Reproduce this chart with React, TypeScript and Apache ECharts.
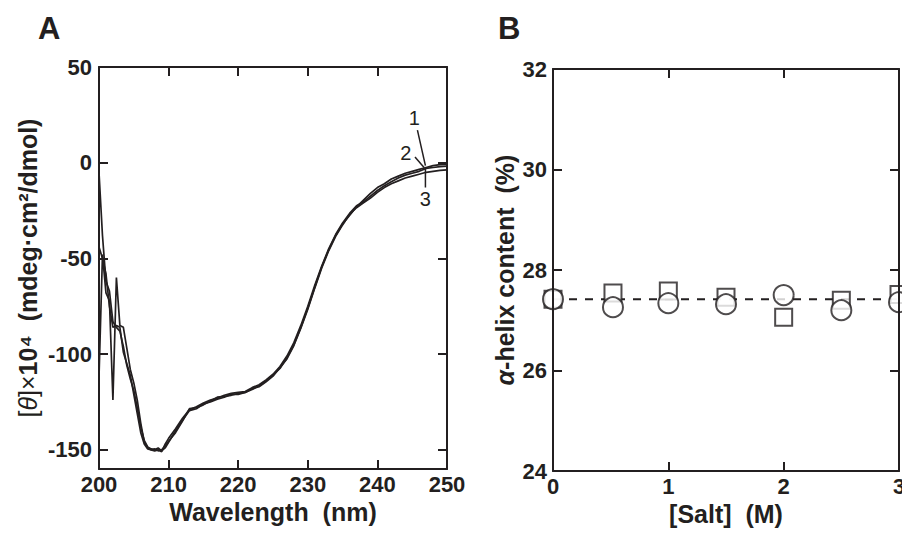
import React, { useEffect, useRef } from "react";
import * as echarts from "echarts";

// ---------- Panel A : CD spectra ----------
const WAVELENGTH = [
  200, 200.5, 201, 201.5, 202, 202.5, 203, 203.5, 204, 204.5, 205, 205.5, 206, 206.5, 207, 207.5, 208, 208.5, 209, 209.5, 210,
  211, 212, 213, 214, 215, 216, 217, 218, 219, 220, 221, 222, 223, 224, 225, 226, 227, 228, 229, 230,
  231, 232, 233, 234, 235, 236, 237, 238, 239, 240, 241, 242, 243, 244, 245, 246, 247, 248, 249, 250,
];
const CURVE_1 = [
  -5, -38, -62, -67, -83, -86, -88, -96, -106, -113, -119, -128, -138, -145, -148.5, -149.5, -150, -149, -150.5, -149, -146,
  -140, -134.5, -129.5, -128.5, -126, -125, -123.5, -122.5, -121, -121, -120, -118.5, -116.5, -114, -111, -107.5, -102, -95, -86, -76,
  -65, -54.5, -45.5, -38, -32, -27.5, -23, -19.5, -16, -13, -11, -8.5, -7, -5.5, -4.5, -3.5, -2.5, -1.5, -1, -0.8,
];
const CURVE_2 = [
  -112, -48, -68, -72, -124, -60, -85, -86, -97, -108, -115, -124, -136, -146, -149, -150, -150.5, -150, -151, -147, -144,
  -139, -133.5, -129, -127.5, -125.5, -124, -123, -121.5, -120.5, -120, -119.5, -117.5, -116, -113.5, -110.5, -106.5, -101, -94, -85, -75,
  -64, -54, -45, -37.5, -31.5, -26.5, -22.5, -20.5, -17.5, -14.5, -12, -10, -8, -6.5, -5.5, -4.5, -3, -2.5, -2, -1.8,
];
const CURVE_3 = [
  -44, -50, -58, -75, -86, -85, -86, -99, -105, -111, -121, -131, -141, -147, -149.5, -150, -149.5, -150.5, -150, -148, -145.5,
  -141, -135, -128.5, -128, -126.5, -124.5, -122.5, -122, -121.5, -120.5, -120, -118, -117, -114.5, -111.5, -107, -102.5, -95.5, -86.5, -76.5,
  -65.5, -55, -46, -38.5, -32.5, -27, -23.5, -21, -18.5, -15.5, -13, -11, -9.5, -8, -7, -6, -5, -4.5, -4, -3.7,
];
const A_Y_TICKS = [-150, -100, -50, 0, 50];
const CURVE_LABELS = ["1", "2", "3"];
// pointer segments [x0, y0, x1, y1] and label anchor [x, y] (data units)
const POINTERS = [
  [245.75, 17, 246.9, -1.5],
  [245.4, 3, 246.7, -2.5],
  [246.9, -2.5, 246.9, -13],
];
const LABEL_POS = [
  [245.3, 23.5],
  [244.1, 5],
  [246.9, -19],
];

// ---------- Panel B : alpha-helix content ----------
const SALT = [0, 0.52, 1, 1.5, 2, 2.5, 3];
const SQUARES = [27.42, 27.54, 27.58, 27.46, 27.06, 27.4, 27.51];
const CIRCLES = [27.42, 27.26, 27.34, 27.32, 27.5, 27.2, 27.36];
const MEAN_LINE = 27.42;

const INK = "#231f20";
const FONT = "'Liberation Sans', Arial, Helvetica, sans-serif";

export default function App() {
  const ref = useRef<HTMLDivElement>(null);

  useEffect(() => {
    document.body.style.margin = "0";
    if (!ref.current) return;
    const chart = echarts.init(ref.current, undefined, { renderer: "svg" });

    const zip = (xs: number[], ys: number[]) => xs.map((x, i) => [x, ys[i]]);

    const axisLine = { show: true, onZero: false, lineStyle: { color: INK, width: 2 } };
    const tick = { show: true, inside: true, length: 9, lineStyle: { color: INK, width: 2 } };
    const label = { fontSize: 22, fontWeight: "bold" as const, color: INK, fontFamily: FONT };
    const titleStyle = { fontSize: 25, fontWeight: "bold", color: INK, fontFamily: FONT };

    const curveSeries = [CURVE_1, CURVE_2, CURVE_3].map((c) => ({
      type: "line",
      xAxisIndex: 0,
      yAxisIndex: 0,
      data: zip(WAVELENGTH, c),
      showSymbol: false,
      symbol: "none",
      lineStyle: { color: INK, width: 1.7 },
      z: 3,
    }));

    const pointerSeries = POINTERS.map((p) => ({
      type: "line",
      xAxisIndex: 0,
      yAxisIndex: 0,
      data: [
        [p[0], p[1]],
        [p[2], p[3]],
      ],
      showSymbol: false,
      symbol: "none",
      lineStyle: { color: INK, width: 1.5 },
      z: 4,
    }));

    const option: any = {
      animation: false,
      backgroundColor: "#fff",
      textStyle: { fontFamily: FONT },
      graphic: [
        { type: "text", left: 38, top: 13, style: { text: "A", font: `bold 31px ${FONT}`, fill: INK } },
        { type: "text", left: 498, top: 13, style: { text: "B", font: `bold 31px ${FONT}`, fill: INK } },
      ],
      grid: [
        { left: 99, top: 67, width: 348, height: 402, outerBoundsMode: "none", containLabel: false },
        { left: 553, top: 69, width: 346, height: 402, outerBoundsMode: "none", containLabel: false },
      ],
      xAxis: [
        {
          gridIndex: 0, type: "value", min: 200, max: 250, interval: 10, position: "bottom",
          axisLine, axisTick: tick, splitLine: { show: false },
          axisLabel: { ...label, margin: 4 },
          name: "Wavelength  (nm)", nameLocation: "middle", nameGap: 30, nameMoveOverlap: false,
          nameTextStyle: titleStyle,
          z: 10,
        },
        {
          gridIndex: 0, type: "value", min: 200, max: 250, interval: 10, position: "top",
          axisLine, axisTick: tick, splitLine: { show: false }, axisLabel: { show: false }, z: 10,
        },
        {
          gridIndex: 1, type: "value", min: 0, max: 3, interval: 1, position: "bottom",
          axisLine, axisTick: tick, splitLine: { show: false },
          axisLabel: { ...label, margin: 4 },
          name: "[Salt]  (M)", nameLocation: "middle", nameGap: 30, nameMoveOverlap: false,
          nameTextStyle: titleStyle,
          z: 10,
        },
        {
          gridIndex: 1, type: "value", min: 0, max: 3, interval: 1, position: "top",
          axisLine, axisTick: tick, splitLine: { show: false }, axisLabel: { show: false }, z: 10,
        },
      ],
      yAxis: [
        {
          gridIndex: 0, type: "value", min: -160, max: 50, position: "left",
          axisLine, axisTick: { ...tick, customValues: A_Y_TICKS }, splitLine: { show: false },
          axisLabel: { ...label, margin: 7, customValues: A_Y_TICKS },
          name: "{r|[}{i|θ}{r|]×}{b|10⁴  (mdeg·cm²/dmol)}",
          nameLocation: "middle", nameRotate: 90, nameGap: 59, nameMoveOverlap: false,
          nameTextStyle: {
            color: INK, fontFamily: FONT, fontSize: 25,
            rich: {
              r: { fontSize: 25, fontFamily: FONT, color: INK },
              i: { fontSize: 25, fontStyle: "italic", fontFamily: FONT, color: INK },
              b: { fontSize: 25, fontWeight: "bold", fontFamily: FONT, color: INK },
            },
          },
          z: 10,
        },
        {
          gridIndex: 0, type: "value", min: -160, max: 50, position: "right",
          axisLine, axisTick: { ...tick, customValues: A_Y_TICKS }, splitLine: { show: false },
          axisLabel: { show: false }, z: 10,
        },
        {
          gridIndex: 1, type: "value", min: 24, max: 32, interval: 2, position: "left",
          axisLine, axisTick: tick, splitLine: { show: false },
          axisLabel: { ...label, margin: 6 },
          name: "{i|α}{b|-helix content  (%)}",
          nameLocation: "middle", nameRotate: 90, nameGap: 36, nameMoveOverlap: false,
          nameTextStyle: {
            color: INK, fontFamily: FONT, fontSize: 25,
            rich: {
              i: { fontSize: 25, fontStyle: "italic", fontWeight: "bold", fontFamily: FONT, color: INK },
              b: { fontSize: 25, fontWeight: "bold", fontFamily: FONT, color: INK },
            },
          },
          z: 10,
        },
        {
          gridIndex: 1, type: "value", min: 24, max: 32, interval: 2, position: "right",
          axisLine, axisTick: tick, splitLine: { show: false }, axisLabel: { show: false }, z: 10,
        },
      ],
      series: [
        ...curveSeries,
        ...pointerSeries,
        {
          type: "scatter",
          xAxisIndex: 0,
          yAxisIndex: 0,
          data: LABEL_POS.map((p, i) => [p[0], p[1], CURVE_LABELS[i]]),
          symbolSize: 1,
          itemStyle: { color: "#ffffff", opacity: 1 },
          label: {
            show: true,
            position: "inside",
            formatter: (p: any) => p.value[2],
            fontSize: 20,
            color: INK,
            fontFamily: FONT,
          },
          z: 5,
        },
        {
          type: "line",
          xAxisIndex: 2,
          yAxisIndex: 2,
          data: [
            [SALT[0], MEAN_LINE],
            [SALT[SALT.length - 1], MEAN_LINE],
          ],
          showSymbol: false,
          symbol: "none",
          lineStyle: { color: INK, width: 2, type: [8, 8] },
          z: 2,
        },
        {
          type: "scatter",
          xAxisIndex: 2,
          yAxisIndex: 2,
          data: zip(SALT, SQUARES),
          symbol: "rect",
          symbolSize: 17,
          clip: false,
          itemStyle: { color: "#fff", borderColor: INK, borderWidth: 2 },
          z: 3,
        },
        {
          type: "scatter",
          xAxisIndex: 2,
          yAxisIndex: 2,
          data: zip(SALT, CIRCLES),
          symbol: "circle",
          symbolSize: 20,
          clip: false,
          itemStyle: { color: "#fff", borderColor: INK, borderWidth: 2 },
          z: 4,
        },
      ],
    };

    chart.setOption(option);
    return () => chart.dispose();
  }, []);

  return <div ref={ref} style={{ width: 902, height: 534 }} />;
}
